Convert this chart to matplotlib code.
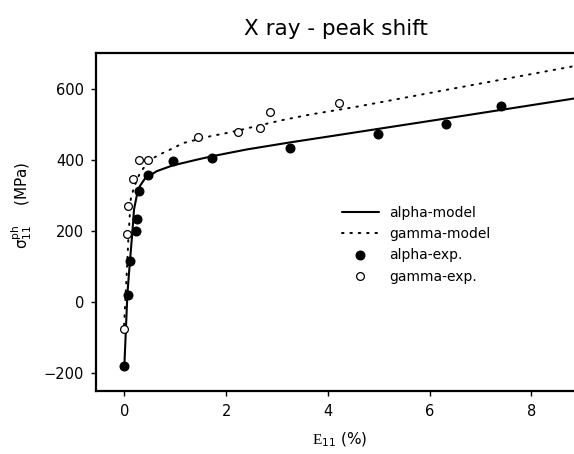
import matplotlib
matplotlib.use("Agg")
import matplotlib.pyplot as plt

plt.rcParams['font.family'] = ['DejaVu Sans']
plt.rcParams['mathtext.fontset'] = 'custom'
plt.rcParams['mathtext.rm'] = 'Liberation Serif'
plt.rcParams['mathtext.sf'] = 'DejaVu Sans'
plt.rcParams['mathtext.it'] = 'DejaVu Sans:italic'

# ---- data ----
alpha_model_x = [0.0, 0.06, 0.11, 0.16, 0.19, 0.26, 0.31, 0.41, 0.64, 0.95, 1.42, 1.73,
                 2.41, 3.27, 4.05, 4.64, 6.64, 8.84]
alpha_model_y = [-181, 23, 114, 200, 260, 310, 327, 348, 368, 384, 400, 410,
                 429, 449, 466, 479, 523, 572]

gamma_model_x = [-0.005, 0.04, 0.08, 0.125, 0.177, 0.25, 0.31, 0.37, 0.45, 0.57, 0.70,
                 0.95, 1.16, 1.69, 2.08, 3.06, 3.65, 4.57, 6.54, 8.84]
gamma_model_y = [-65, 60, 180, 288, 316, 345, 363, 375, 390, 405, 415,
                 432, 447, 466, 477, 510, 527, 549, 602, 663]

alpha_exp_x = [0.0, 0.067, 0.106, 0.224, 0.256, 0.283, 0.46, 0.96, 1.725, 3.265,
               4.98, 6.32, 7.41]
alpha_exp_y = [-181, 21, 114, 200, 234, 312, 357, 397, 404, 433,
               471, 501, 550]

gamma_exp_x = [-0.006, 0.047, 0.079, 0.18, 0.295, 0.472, 1.445, 2.242, 2.668, 2.866, 4.22]
gamma_exp_y = [-75, 190, 271, 345, 398, 398, 464, 479, 490, 535, 560]

legend_labels = ["alpha-model", "gamma-model", "alpha-exp.", "gamma-exp."]
x_ticks = [0, 2, 4, 6, 8]
y_ticks = [-200, 0, 200, 400, 600]

# ---- figure ----
W, H = 574, 454
fig = plt.figure(figsize=(W / 100, H / 100), dpi=100)
ax = fig.add_axes([96 / W, 1 - 391 / H, 1 - 96 / W, (391 - 53) / H])

l1, = ax.plot(alpha_model_x, alpha_model_y, color='black', lw=1.5, solid_capstyle='round')
l2, = ax.plot(gamma_model_x, gamma_model_y, color='black', lw=1.4,
              linestyle=(0, (0.8, 3.5)), dash_capstyle='round')
l3, = ax.plot(alpha_exp_x, alpha_exp_y, 'o', color='black', markersize=6.2, zorder=4)
l4, = ax.plot(gamma_exp_x, gamma_exp_y, 'o', markerfacecolor='white',
              markeredgecolor='black', markeredgewidth=0.9, markersize=5.6, zorder=4)

ax.set_xlim(-0.557, 8.84)
ax.set_ylim(-250, 700)
ax.set_xticks(x_ticks)
ax.set_yticks(y_ticks)
ax.tick_params(direction='out', length=3.5, width=1.0, labelsize=10.5, pad=5)
ax.tick_params(axis='x', pad=6)
for s in ['left', 'top', 'bottom']:
    ax.spines[s].set_linewidth(1.6)
ax.spines['right'].set_visible(False)

fig.text(335.5 / W, 1 - 29 / H, "X ray - peak shift", ha='center', va='center', fontsize=15.5)
fig.text(22 / W, 1 - 205 / H, r"$\mathsf{σ_{11}^{ph}}$    (MPa)", rotation=90,
         ha='center', va='center', fontsize=11)
fig.text(340 / W, 1 - 440 / H, r"$\mathrm{E}_{\mathsf{11}}$ (%)", ha='center', va='center',
         fontsize=11)

leg = fig.legend([l1, l2, l3, l4], legend_labels, loc='upper left',
                 bbox_to_anchor=(342 / W, 1 - 206 / H), frameon=False, fontsize=10,
                 handlelength=2.66, handletextpad=0.72, labelspacing=0.52,
                 borderpad=0, borderaxespad=0, numpoints=1)

fig.savefig("out.png", dpi=100)
